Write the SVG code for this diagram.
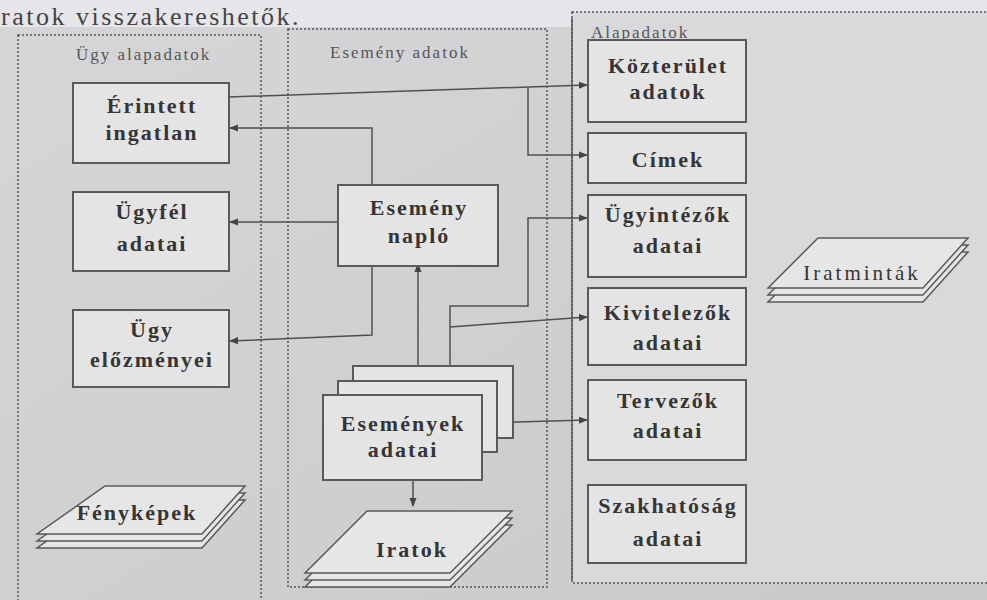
<svg xmlns="http://www.w3.org/2000/svg" width="987" height="600" viewBox="0 0 987 600">
<defs>
<linearGradient id="bg" x1="0" y1="0" x2="1" y2="1">
<stop offset="0" stop-color="#d6d6d8"/>
<stop offset="0.5" stop-color="#d0d0d2"/>
<stop offset="1" stop-color="#c9c9cb"/>
</linearGradient>
<marker id="ah" viewBox="0 0 10 10" refX="9" refY="5" markerWidth="9" markerHeight="9" markerUnits="userSpaceOnUse" orient="auto-start-reverse">
<path d="M0,1 L10,5 L0,9 z" fill="#444"/>
</marker>
<style>
.box{fill:#e4e4e5;stroke:#5a5a5a;stroke-width:2}
.t{font-family:"Liberation Serif","DejaVu Serif",serif;font-weight:bold;font-size:22px;letter-spacing:2px;fill:#353535;text-anchor:middle}
.tn{font-weight:normal;font-size:21px;letter-spacing:3px}
.cl{font-family:"Liberation Serif","DejaVu Serif",serif;font-size:17px;letter-spacing:2px;fill:#555}
.cont{fill:none;stroke:#555;stroke-width:1.5;stroke-dasharray:2 2}
.doc{fill:#e6e6e7;stroke:#5a5a5a;stroke-width:1.5}
.c{fill:none;stroke:#505050;stroke-width:1.5}
</style>
</defs>
<rect x="0" y="0" width="987" height="600" fill="url(#bg)"/>
<rect x="0" y="0" width="987" height="27" fill="#e6e6ea"/>
<rect x="572" y="12" width="415" height="571" fill="#d9d9dc"/>
<text x="1" y="25" font-family="Liberation Serif, serif" font-size="26" fill="#444" letter-spacing="2.5">ratok visszakereshetők.</text>

<g id="container-ugy">
<rect class="cont" x="18" y="35" width="243" height="570"/>
<text class="cl" x="76" y="60">Ügy alapadatok</text>
</g>
<g id="container-esemeny">
<rect class="cont" x="288" y="29" width="259" height="558"/>
<text class="cl" x="330" y="58">Esemény adatok</text>
</g>
<g id="container-alap">
<rect class="cont" x="572" y="12" width="420" height="571"/>
<line x1="572" y1="18" x2="572" y2="580" stroke="#555" stroke-width="1.5"/>
<text class="cl" x="591" y="38" font-size="16" letter-spacing="2.5">Alapadatok</text>
</g>

<g id="connectors">
<path class="c" d="M229,97 L587,85" marker-end="url(#ah)"/>
<path class="c" d="M528,88 V155 H587" marker-end="url(#ah)"/>
<path class="c" d="M372,190 V128 H230" marker-end="url(#ah)"/>
<path class="c" d="M338,222 H230" marker-end="url(#ah)"/>
<path class="c" d="M372,266 V335 L230,341" marker-end="url(#ah)"/>
<path class="c" d="M418,264 V394" marker-start="url(#ah)" marker-end="url(#ah)"/>
<path class="c" d="M450,366 V306 H528 V218 H587" marker-end="url(#ah)"/>
<path class="c" d="M450,327 L587,317" marker-end="url(#ah)"/>
<path class="c" d="M482,423 L587,420" marker-end="url(#ah)"/>
<path class="c" d="M413,480 V506" marker-end="url(#ah)"/>
</g>

<g id="node-erintett">
<rect class="box" x="73" y="83" width="156" height="80"/>
<text class="t" x="152" y="113">Érintett</text>
<text class="t" x="152" y="140">ingatlan</text>
</g>
<g id="node-ugyfel">
<rect class="box" x="73" y="192" width="156" height="79"/>
<text class="t" x="152" y="219">Ügyfél</text>
<text class="t" x="152" y="251">adatai</text>
</g>
<g id="node-elozmenyei">
<rect class="box" x="73" y="310" width="156" height="77"/>
<text class="t" x="152" y="337">Ügy</text>
<text class="t" x="152" y="367">előzményei</text>
</g>
<g id="node-fenykepek">
<path class="doc" d="M105,500 H245 L202,548 H37 Z"/>
<path class="doc" d="M105,493 H245 L202,541 H37 Z"/>
<path class="doc" d="M105,486 H245 L202,534 H37 Z"/>
<text class="t" x="137" y="520">Fényképek</text>
</g>

<g id="node-naplo">
<rect class="box" x="338" y="185" width="160" height="81"/>
<text class="t" x="419" y="215">Esemény</text>
<text class="t" x="419" y="243">napló</text>
</g>
<g id="node-esemenyek">
<rect class="box" x="353" y="366" width="160" height="72"/>
<rect class="box" x="338" y="381" width="159" height="71"/>
<rect class="box" x="323" y="395" width="159" height="85"/>
<text class="t" x="403" y="431">Események</text>
<text class="t" x="403" y="457">adatai</text>
</g>
<g id="node-iratok">
<path class="doc" d="M367,525 H512 L450,587 H305 Z"/>
<path class="doc" d="M367,518 H512 L450,580 H305 Z"/>
<path class="doc" d="M367,511 H512 L450,573 H305 Z"/>
<text class="t" x="412" y="557">Iratok</text>
</g>

<g id="node-kozterulet">
<rect class="box" x="588" y="40" width="158" height="82"/>
<text class="t" x="668" y="73">Közterület</text>
<text class="t" x="668" y="99">adatok</text>
</g>
<g id="node-cimek">
<rect class="box" x="588" y="133" width="158" height="50"/>
<text class="t" x="668" y="167">Címek</text>
</g>
<g id="node-ugyintezok">
<rect class="box" x="588" y="195" width="158" height="82"/>
<text class="t" x="668" y="222">Ügyintézők</text>
<text class="t" x="668" y="253">adatai</text>
</g>
<g id="node-kivitelezok">
<rect class="box" x="588" y="288" width="158" height="77"/>
<text class="t" x="668" y="320">Kivitelezők</text>
<text class="t" x="668" y="350">adatai</text>
</g>
<g id="node-tervezok">
<rect class="box" x="588" y="380" width="158" height="80"/>
<text class="t" x="668" y="408">Tervezők</text>
<text class="t" x="668" y="438">adatai</text>
</g>
<g id="node-szakhatosag">
<rect class="box" x="588" y="485" width="158" height="78"/>
<text class="t" x="668" y="513">Szakhatóság</text>
<text class="t" x="668" y="546">adatai</text>
</g>
<g id="node-iratmintak">
<path class="doc" d="M818,252 H968 L923,302 H768 Z"/>
<path class="doc" d="M818,245 H968 L923,295 H768 Z"/>
<path class="doc" d="M818,238 H968 L923,288 H768 Z"/>
<text class="t tn" x="862" y="280">Iratminták</text>
</g>
</svg>
